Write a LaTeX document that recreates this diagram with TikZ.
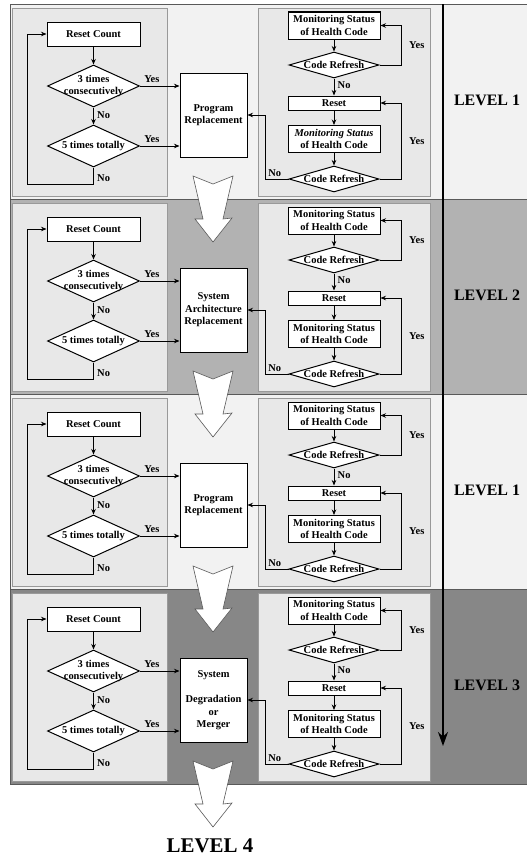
\documentclass[tikz,border=0pt]{standalone}
\usepackage{fontspec}
\setmainfont{Liberation Serif}
\usetikzlibrary{shapes.geometric,arrows.meta}

\begin{document}
\begin{tikzpicture}[x=1bp, y=-1bp, >={Stealth[length=5.5bp,width=4.5bp]},
    font=\bfseries\fontsize{10.5}{12.5}\selectfont,
    box/.style={draw, line width=1bp, fill=white, inner sep=1bp, align=center},
    dia/.style={diamond, draw, line width=1bp, fill=white, inner xsep=-24bp, inner ysep=-8bp, align=center},
    flow/.style={->, line width=0.8bp},
    band/.style={draw=black!65, line width=0.8bp},
    panel/.style={draw=black!40, fill=black!9},
    hollow/.style={draw=black!65, fill=white, line width=0.6bp},
    level/.style={font=\bfseries\fontsize{16}{16}\selectfont}]
  \useasboundingbox (0,0) rectangle (527,856);

  % Bands and panels
  \foreach \bandy/\bandfill in {0/black!5, 195/black!30, 390/black!5, 585/black!47} {
    \draw[band, fill=\bandfill] (10,4+\bandy) rectangle (528,199+\bandy);
    \draw[panel] (12,8+\bandy) rectangle (167,196+\bandy);
    \draw[panel] (258,8+\bandy) rectangle (430,196+\bandy);
  }

  % Level arrow
  \coordinate (lvtop) at (443,4);
  \coordinate (lvend) at (443,746);
  \draw[-{Stealth[length=14bp,width=10bp]}, line width=1.4bp] (lvtop) -- (lvend);

  % Flowcharts
  \foreach \bandy/\midtext/\levtext/\mstyle in {
      0/{Program\\Replacement}/{LEVEL 1}/\itshape,
      195/{System\\Architecture\\Replacement}/{LEVEL 2}/\upshape,
      390/{Program\\Replacement}/{LEVEL 1}/\upshape,
      585/{System\\[13bp]Degradation\\or\\Merger}/{LEVEL 3}/\upshape} {
    \begin{scope}[shift={(0,\bandy)}]
      \draw[hollow] (193,176) -- (213,184) -- (233,176) -- (223,219) -- (232,218)
        -- (213,242) -- (195,219) -- (203,219) -- cycle;

      % Counting side
      \node (rc) [box, minimum width=93bp, minimum height=24bp] at (93.5,34) {Reset Count};
      \node (d3) [dia, minimum width=92bp, minimum height=42bp, node distance=52bp, below of=rc] {3 times\\consecutively};
      \node (d5) [dia, minimum width=92bp, minimum height=42bp, node distance=60bp, below of=d3] {5 times totally};
      \node (prog) [box, minimum width=67bp, minimum height=84bp] at (213.5,115) {\midtext};

      % Monitoring side
      \node (m1) [box, minimum width=92bp, minimum height=27bp] at (334,25.5) {Monitoring Status\\of Health Code};
      \node (c1) [dia, minimum width=90bp, minimum height=26bp, node distance=39.5bp, below of=m1] {Code Refresh};
      \node (rs) [box, minimum width=92bp, minimum height=14bp, node distance=38bp, below of=c1] {Reset};
      \node (m2) [box, minimum width=92bp, minimum height=27bp, node distance=36bp, below of=rs] {{\mstyle Monitoring Status}\\of Health Code};
      \node (c2) [dia, minimum width=90bp, minimum height=26bp, node distance=40bp, below of=m2] {Code Refresh};

      \node (lev) [level] at (487,100) {\levtext};

      % Arrows
      \draw[flow] (rc) -- (d3);
      \draw[flow] (d3) -- node[right, pos=0.45] {No} (d5);
      \draw[flow] (d3.east) -- node[above, pos=0.3] {Yes} (d3.east -| prog.west);
      \draw[flow] (d5.east) -- node[above, pos=0.3] {Yes} (d5.east -| prog.west);
      \draw[flow] (d5.south) -- node[right, pos=0.6] {No} ++(0,17) -| ([xshift=-19bp]rc.west) -- (rc.west);
      \draw[flow] (m1) -- (c1);
      \draw[flow] (c1) -- node[right, pos=0.4] {No} (rs);
      \draw[flow] (rs) -- (m2);
      \draw[flow] (m2) -- (c2);
      \draw[flow] (c1.east) -- ++(22,0) |- node[right=4bp, pos=0.25] {Yes} (m1.east);
      \draw[flow] (c2.east) -- ++(22,0) |- node[right=4bp, pos=0.25] {Yes} (rs.east);
      \draw[flow] (c2.west) -- node[above=-1bp, pos=0.6] {No} ++(-23,0) |- (prog.east);
    \end{scope}
  }

  \node (lev4) [font=\bfseries\fontsize{21}{21}\selectfont] at (210,846) {LEVEL 4};
\end{tikzpicture}
\end{document}
